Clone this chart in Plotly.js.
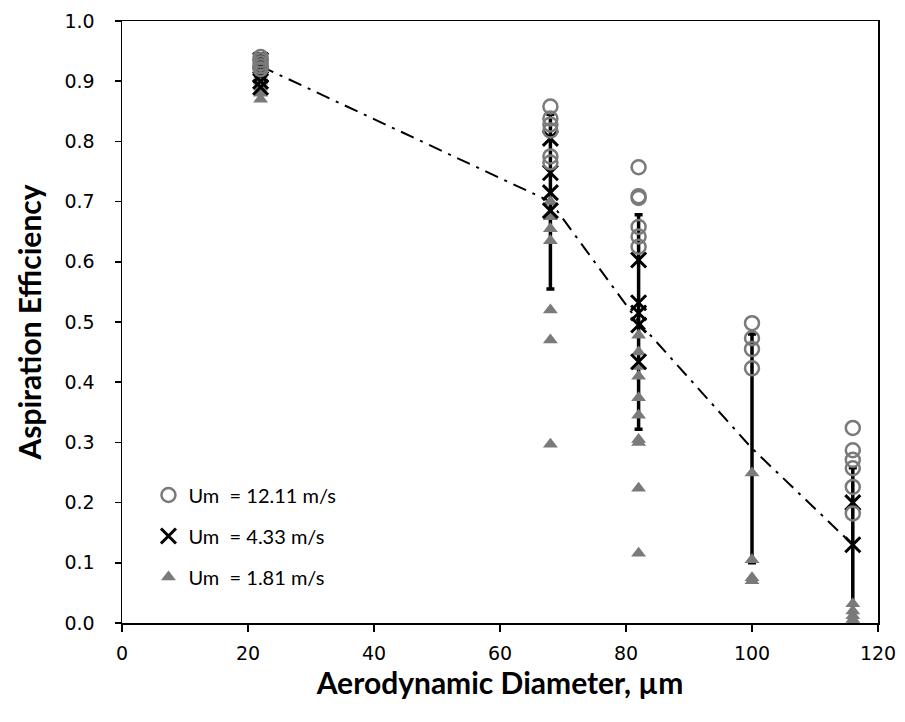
<!DOCTYPE html>
<html>
<head>
<meta charset="utf-8">
<script src="https://cdn.plot.ly/plotly-3.0.1.min.js"></script>
<style>html,body{margin:0;padding:0;background:#fff;}#chart{width:905px;height:722px;}</style>
</head>
<body>
<div id="chart"></div>
<script>
// Um = 12.11 m/s (open circles)
const circX = [22,22,22,22,22, 68,68,68,68,68,68, 82,82,82,82,82,82, 100,100,100,100, 116,116,116,116,116,116];
const circY = [0.94,0.935,0.93,0.925,0.92, 0.858,0.838,0.828,0.818,0.775,0.765, 0.757,0.709,0.706,0.658,0.642,0.625, 0.498,0.473,0.455,0.423, 0.324,0.287,0.271,0.257,0.226,0.182];
// Um = 4.33 m/s (crosses)
const crossX = [22,22,22,22,22, 68,68,68,68, 82,82,82,82,82, 116,116];
const crossY = [0.935,0.925,0.91,0.90,0.89, 0.805,0.748,0.715,0.685, 0.603,0.532,0.515,0.495,0.434, 0.20,0.13];
// Um = 1.81 m/s (filled triangles)
const triX = [22,22,22,22,22,22, 68,68,68,68,68,68,68, 82,82,82,82,82,82,82,82,82,82, 100,100,100,100, 116,116,116,116,116];
const triY = [0.92,0.91,0.90,0.89,0.88,0.87, 0.70,0.675,0.655,0.635,0.52,0.47,0.297, 0.478,0.45,0.426,0.41,0.374,0.345,0.305,0.30,0.224,0.116, 0.249,0.105,0.075,0.07, 0.032,0.02,0.012,0.006,0.002];
// Mean line with error bars
const meanX = [22,68,82,100,116];
const meanY = [0.925,0.70,0.50,0.29,0.13];
const meanErr = [0.02,0.145,0.178,0.19,0.128];

const traces = [
  {x: meanX, y: meanY, type:'scatter', mode:'lines', showlegend:false,
   line:{color:'#000', width:2, dash:'14px,7px,3px,7px'},
   error_y:{type:'data', array: meanErr, visible:true, color:'#000', thickness:3.5, width:4}},
  {x: triX, y: triY, type:'scatter', mode:'markers', name:'Um  = 1.81 m/s', legendgroup:'c', legendrank:3,
   marker:{symbol:'triangle-up', size:13, color:'#7a7a7a'}},
  {x: crossX, y: crossY, type:'scatter', mode:'markers', name:'Um  = 4.33 m/s', legendgroup:'b', legendrank:2,
   marker:{symbol:'x-thin-open', size:15, color:'#000', line:{color:'#000', width:3}}},
  {x: circX, y: circY, type:'scatter', mode:'markers', name:'Um  = 12.11 m/s', legendgroup:'a', legendrank:1,
   marker:{symbol:'circle-open', size:14, color:'#7a7a7a', line:{color:'#7a7a7a', width:2.5}}}
];

const layout = {
  width:905, height:722,
  margin:{l:122, r:27, t:21, b:99},
  paper_bgcolor:'#fff', plot_bgcolor:'#fff',
  font:{family:'DejaVu Sans, sans-serif', color:'#000'},
  showlegend:true,
  legend:{x:0.035, y:0.245, xanchor:'left', yanchor:'top', bgcolor:'rgba(0,0,0,0)',
          font:{family:'Lato, sans-serif', size:20, color:'#000'}, traceorder:'grouped', tracegroupgap:12},
  xaxis:{range:[0,120], tickvals:[0,20,40,60,80,100,120], showgrid:false, zeroline:false,
         showline:true, linecolor:'#000', linewidth:1.5, mirror:true,
         ticks:'outside', ticklen:7, tickcolor:'#000', tickwidth:1.5, ticklabelstandoff:6,
         tickfont:{family:'DejaVu Sans, sans-serif', size:19, color:'#000'},
         title:{text:'Aerodynamic Diameter, µm', font:{family:'Lato, sans-serif', size:30, color:'#000', weight:'bold'}, standoff:8}},
  yaxis:{range:[0,1], tickvals:[0,0.1,0.2,0.3,0.4,0.5,0.6,0.7,0.8,0.9,1.0], tickformat:'.1f', showgrid:false, zeroline:false,
         showline:true, linecolor:'#000', linewidth:1.5, mirror:true,
         ticks:'outside', ticklen:6, tickcolor:'#000', tickwidth:1.5, ticklabelstandoff:16,
         tickfont:{family:'DejaVu Sans, sans-serif', size:19, color:'#000'},
         title:{text:'Aspiration Efficiency', font:{family:'Lato, sans-serif', size:30, color:'#000', weight:'bold'}, standoff:14}}
};

Plotly.newPlot('chart', traces, layout, {displayModeBar:false, staticPlot:true});
</script>
</body>
</html>
